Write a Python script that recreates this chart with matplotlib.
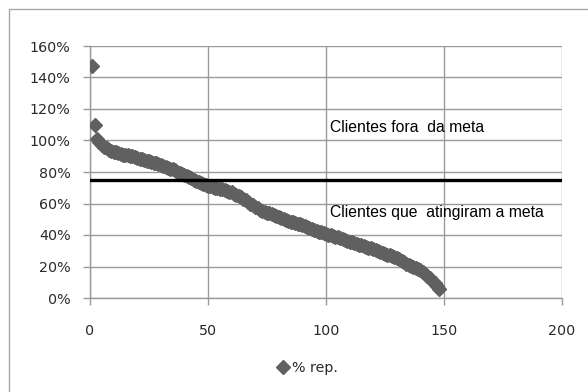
import matplotlib
matplotlib.use("Agg")
import matplotlib.pyplot as plt
from matplotlib.patches import Rectangle

# % of target reached per client, sorted from highest to lowest
rep_pct = [
    147, 110, 101, 99, 97, 96, 95, 94, 93.5, 93,
    92.5, 92, 91.5, 91, 90.8, 90.5, 90.2, 90, 89.5, 89,
    88.5, 88, 87.5, 87, 86.7, 86.3, 86, 85.5, 85, 84.5,
    84, 83.4, 82.8, 82.2, 81.6, 81, 80.3, 79.6, 79, 78.3,
    77.5, 76.8, 76, 75.2, 74.4, 73.6, 72.9, 72.3, 71.8, 71.3,
    70.9, 70.5, 70.1, 69.7, 69.3, 68.9, 68.5, 68, 67.5, 67,
    66.3, 65.5, 64.7, 63.9, 63, 62, 61, 60, 59, 58,
    57, 56, 55.3, 54.7, 54.2, 53.7, 53.2, 52.6, 52, 51.3,
    50.6, 50, 49.4, 48.9, 48.4, 48, 47.6, 47.2, 46.8, 46.3,
    45.8, 45.2, 44.6, 44, 43.4, 42.8, 42.2, 41.6, 41, 40.5,
    40.1, 39.7, 39.3, 38.9, 38.5, 38.1, 37.6, 37, 36.4, 35.8,
    35.3, 34.8, 34.3, 33.9, 33.5, 33, 32.5, 32, 31.5, 31,
    30.4, 29.8, 29.2, 28.6, 28.1, 27.6, 27.1, 26.6, 26, 25.3,
    24.5, 23.6, 22.6, 21.6, 20.8, 20.2, 19.6, 19, 18.3, 17.5,
    16.5, 15.3, 14, 12.5, 11, 9.5, 7.5, 5.5,
]
client_idx = list(range(1, len(rep_pct) + 1))

target_pct = 75
series_label = "% rep."
label_above = "Clientes fora  da meta"
label_below = "Clientes que  atingiram a meta"

x_ticks = [0, 50, 100, 150, 200]
x_tick_labels = ["0", "50", "100", "150", "200"]
y_ticks = [0, 20, 40, 60, 80, 100, 120, 140, 160]
y_tick_labels = ["0%", "20%", "40%", "60%", "80%", "100%", "120%", "140%", "160%"]

fig = plt.figure(figsize=(5.88, 3.92), dpi=100)
fig.patch.set_facecolor("white")

# chart-area frame (runs off the right and bottom edges)
fig.patches.append(Rectangle((9 / 588, -0.05), 1.2, (392 - 9) / 392 + 0.05,
                             transform=fig.transFigure, fill=False,
                             edgecolor="#a6a6a6", linewidth=1.0))

ax = fig.add_axes([90 / 588, (392 - 298) / 392, 472 / 588, 252 / 392])

grid_color = "#9a9a9a"
ax.set_xlim(x_ticks[0], x_ticks[-1])
ax.set_ylim(y_ticks[0], y_ticks[-1])
ax.set_xticks(x_ticks, x_tick_labels)
ax.set_yticks(y_ticks, y_tick_labels)
ax.grid(True, color=grid_color, linewidth=1.0)
ax.set_axisbelow(True)
for side in ("top", "right"):
    ax.spines[side].set_visible(False)
for side in ("left", "bottom"):
    ax.spines[side].set_color(grid_color)
    ax.spines[side].set_linewidth(1.0)

tick_size = 10.3
ax.tick_params(axis="both", colors=grid_color, length=5, width=1.0,
               labelcolor="#2a2a2a", labelsize=tick_size)
for lbl in ax.get_xticklabels() + ax.get_yticklabels():
    lbl.set_family("DejaVu Sans")
ax.tick_params(axis="y", pad=9)
ax.tick_params(axis="x", pad=14)

ax.plot(client_idx, rep_pct, linestyle="none", marker="D", markersize=7,
        color="#606060", markeredgecolor="#606060", label=series_label,
        zorder=3)
ax.axhline(target_pct, color="black", linewidth=2.4, zorder=4)

text_font = dict(family=["Liberation Sans Narrow", "Liberation Sans"],
                 size=11.3, color="black")
ax.text(101.5, 108.5, label_above, va="center", ha="left", **text_font)
ax.text(101.5, 54, label_below, va="center", ha="left", **text_font)

leg = fig.legend(loc="center", bbox_to_anchor=(308 / 588, (392 - 368) / 392),
                 frameon=False, handlelength=0.6, handletextpad=0.3,
                 prop=dict(family="DejaVu Sans", size=tick_size))
for t in leg.get_texts():
    t.set_color("#2a2a2a")

fig.savefig("out.png", dpi=100, facecolor="white")
